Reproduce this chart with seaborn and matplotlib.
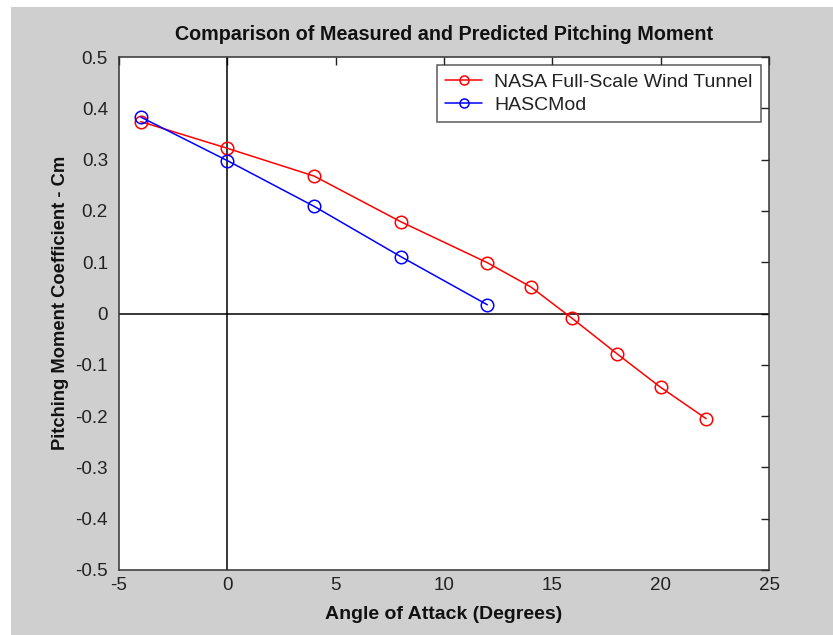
import numpy as np
import pandas as pd
import matplotlib
matplotlib.use("Agg")
import matplotlib.pyplot as plt
import seaborn as sns
from matplotlib.patches import Rectangle

# measured data (NASA full-scale wind tunnel)
nasa_alpha = [-4, 0, 4, 8, 12, 14, 15.9, 18, 20, 22.1]
nasa_cm = [0.374, 0.322, 0.268, 0.179, 0.099, 0.052, -0.009, -0.079, -0.144, -0.205]
# predicted data (HASCMod)
hasc_alpha = [-4, 0, 4, 8, 12]
hasc_cm = [0.383, 0.298, 0.209, 0.111, 0.017]

series_names = ["NASA Full-Scale Wind Tunnel", "HASCMod"]
series_colors = ["#ff0000", "#0000ff"]
x_ticks = [-5, 0, 5, 10, 15, 20, 25]
y_ticks = [-0.5, -0.4, -0.3, -0.2, -0.1, 0, 0.1, 0.2, 0.3, 0.4, 0.5]

df = pd.concat([
    pd.DataFrame({"alpha": nasa_alpha, "cm": nasa_cm, "source": series_names[0]}),
    pd.DataFrame({"alpha": hasc_alpha, "cm": hasc_cm, "source": series_names[1]}),
])

sns.set_style("white")
plt.rcParams["font.family"] = ["Liberation Sans", "DejaVu Sans"]

fig = plt.figure(figsize=(8.33, 6.35), dpi=100)
fig.patch.set_facecolor("white")
fig.patches.append(Rectangle((11 / 833, 0), 1, 628 / 635, transform=fig.transFigure,
                             facecolor="#cfcfcf", edgecolor="none", zorder=-10))
ax = fig.add_axes([119 / 833, 65 / 635, 650 / 833, 513 / 635])
ax.set_facecolor("white")

ax.axhline(0, color="black", lw=1.1, zorder=1)
ax.axvline(0, color="black", lw=1.1, zorder=1)

sns.lineplot(data=df, x="alpha", y="cm", hue="source", palette=series_colors,
             marker="o", markersize=9, markerfacecolor="none", markeredgewidth=1.1,
             linewidth=1.1, sort=False, estimator=None, ax=ax, zorder=3)
for line, c in zip(ax.get_lines()[2:], series_colors):
    line.set_markeredgecolor(c)

ax.set_xlim(-5, 25)
ax.set_ylim(-0.5, 0.5)
ax.set_xticks(x_ticks)
ax.set_xticklabels([str(t) for t in x_ticks])
ax.set_yticks(y_ticks)
ax.set_yticklabels(["0" if t == 0 else f"{t:g}" for t in y_ticks])
ax.tick_params(direction="in", length=6, width=1, colors="#222222", labelsize=13.5,
               top=True, right=True)
ax.tick_params(axis="y", pad=8)
ax.tick_params(axis="x", pad=5)
for s in ax.spines.values():
    s.set_color("#333333")
    s.set_linewidth(1.1)

ax.set_title("Comparison of Measured and Predicted Pitching Moment",
             fontweight="bold", fontsize=14.2, pad=12, color="#111111")
ax.set_xlabel("Angle of Attack (Degrees)", fontweight="bold", fontsize=14, labelpad=9, color="#111111")
ax.set_ylabel("Pitching Moment Coefficient - Cm", fontweight="bold", fontsize=13.2, color="#111111")
ax.yaxis.set_label_coords(-0.077, 0.52)

leg = ax.legend(loc="upper right", fontsize=14, frameon=True, fancybox=False,
                borderaxespad=0.4, handlelength=1.9, handletextpad=0.6,
                labelspacing=0.25, borderpad=0.45)
leg.get_frame().set_edgecolor("#333333")
leg.get_frame().set_linewidth(1.1)
for h, c in zip(leg.legend_handles, series_colors):
    h.set_markerfacecolor("none")
    h.set_markeredgecolor(c)
    h.set_markersize(6.5)
for t in leg.get_texts():
    t.set_color("#222222")

fig.savefig("out.png", dpi=100, facecolor=fig.get_facecolor())
